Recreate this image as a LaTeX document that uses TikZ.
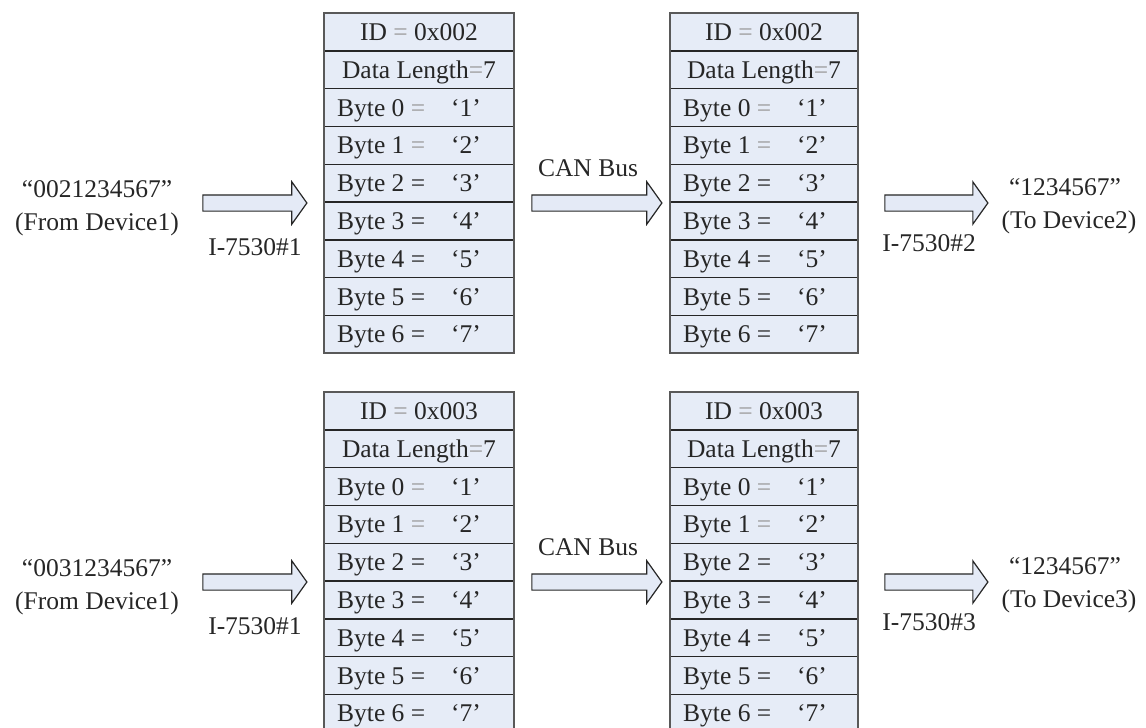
\documentclass[tikz,border=0pt]{standalone}
\usepackage{fontspec}
\setmainfont{Liberation Serif}
\usetikzlibrary{shapes.arrows}
\definecolor{cellfill}{HTML}{E6ECF7}
\definecolor{arrfill}{HTML}{E4EAF6}
\definecolor{eqgray}{HTML}{9A9A9A}
\definecolor{edge}{HTML}{262626}
\tikzset{
 txt/.style={font=\fontsize{25.5}{30}\selectfont, inner sep=0pt, text height=17pt, text depth=0pt, text=black!85},
 cell/.style={txt, draw=edge, fill=cellfill, line width=1.4pt, minimum height=37.8pt, outer sep=0pt},
 fatarrow/.style={single arrow, draw=edge, fill=arrfill, line width=1.2pt, inner xsep=0pt, inner ysep=7.5pt, text height=0pt, text depth=0pt, single arrow head extend=13pt, single arrow tip angle=109, shape border rotate=0, anchor=center}
}
\newcommand\cantable[5]{%
 \node[cell, minimum width=#5pt, anchor=north west] (#1-0) at (#2,#3) {ID \textcolor{eqgray}{=} #4};
 \node[cell, minimum width=#5pt, anchor=north west] (#1-1) at (#2,#3+37.8) {Data Length\textcolor{eqgray}{=}7};
 \foreach \k in {0,...,6}{%
  \pgfmathtruncatemacro\r{\k+2}%
  \pgfmathtruncatemacro\v{\k+1}%
  \node[cell, minimum width=#5pt, anchor=north west] (#1-\r) at (#2,#3+\r*37.8) {};
  \node[txt, anchor=west] (#1-l\r) at ([xshift=13pt]#1-\r.west) {Byte \k\ \ifnum\k<2 \textcolor{eqgray}{=}\else =\fi};
  \node[txt] (#1-v\r) at ([xshift=142pt]#1-\r.west) {‘\v’};
 }
 \draw[draw=black!65, line width=2pt] (#1-0.north west) rectangle (#1-8.south east);
}
\newcommand\canrow[6]{%
 \node[txt] (#1src) at (97,189+#2) {“#3”};
 \node[txt] (#1from) at (97,222+#2) {(From Device1)};
 \cantable{#1ta}{324}{13+#2}{#4}{190}
 \cantable{#1tb}{670}{13+#2}{#4}{188}
 \node[fatarrow, minimum height=104pt] (#1a1) at (252,203+#2) {};
 \node[fatarrow, minimum height=130pt] (#1a2) at (594,203+#2) {};
 \node[fatarrow, minimum height=103pt] (#1a3) at (933.5,203+#2) {};
 \node[txt] (#1l1) at (255,247+#2) {I-7530\#1};
 \node[txt] (#1can) at (588,168+#2) {CAN Bus};
 \node[txt] (#1l2) at (929,243+#2) {I-7530\##6};
 \node[txt] (#1dst) at (1065,187+#2) {“1234567”};
 \node[txt] (#1to) at (1069,220+#2) {(To Device#5)};
}
\begin{document}
\begin{tikzpicture}[x=1pt,y=-1pt]
\useasboundingbox (0,0) rectangle (1146,728);
\clip (0,0) rectangle (1146,728);
\canrow{u}{0}{0021234567}{0x002}{2}{2}
\canrow{d}{379}{0031234567}{0x003}{3}{3}
\end{tikzpicture}
\end{document}
